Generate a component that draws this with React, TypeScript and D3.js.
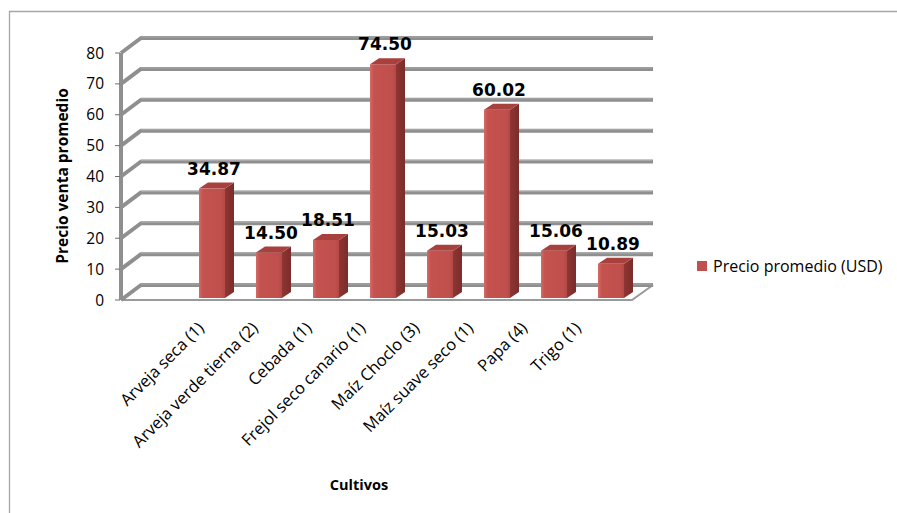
import React from "react";
import * as d3 from "d3";

// Cultivos y precio promedio de venta (USD)
const categories = [
  "Arveja seca (1)",
  "Arveja verde tierna (2)",
  "Cebada (1)",
  "Frejol seco canario (1)",
  "Maíz Choclo (3)",
  "Maíz suave seco (1)",
  "Papa (4)",
  "Trigo  (1)",
];
const values = [34.87, 14.5, 18.51, 74.5, 15.03, 60.02, 15.06, 10.89];
const yTicks = [0, 10, 20, 30, 40, 50, 60, 70, 80];
const seriesName = "Precio promedio (USD)";
const xTitle = "Cultivos";
const yTitle = "Precio venta promedio";

const W = 897;
const H = 513;

// 3D depth offsets
const WALL_DX = 20;
const WALL_DY = -15;
const BAR_DX = 9;
const BAR_DY = -6;

const FONT = "'Open Sans', 'Noto Sans', sans-serif";

export default function App() {
  // front plane of the value axis
  const yFront = d3.scaleLinear().domain([0, 80]).range([300, 53]);
  // plane in which the columns stand
  const yBar = d3.scaleLinear().domain([0, 80]).range([298, 47]);

  const xBar = d3
    .scaleBand<string>()
    .domain(categories)
    .range([183.5, 639.5])
    .paddingInner(0.544)
    .paddingOuter(0.272);

  const xLabel = d3.scalePoint<string>().domain(categories).range([205, 582]);

  const axisX = 121;
  const floorRight = 632;
  const wallRight = 653;

  const bw = xBar.bandwidth();

  return (
    <svg
      width={W}
      height={H}
      viewBox={`0 0 ${W} ${H}`}
      style={{ position: "absolute", left: 0, top: 0, background: "#fff" }}
    >
      <defs>
        <linearGradient id="barFront" x1="0" x2="1" y1="0" y2="0">
          <stop offset="0" stopColor="#d66a66" />
          <stop offset="0.15" stopColor="#c4524f" />
          <stop offset="0.85" stopColor="#c0504d" />
          <stop offset="1" stopColor="#b44844" />
        </linearGradient>
        <linearGradient id="barSide" x1="0" x2="1" y1="0" y2="0">
          <stop offset="0" stopColor="#8e3633" />
          <stop offset="1" stopColor="#7a2c2a" />
        </linearGradient>
      </defs>

      <rect x={0} y={0} width={W} height={H} fill="#fff" />

      {/* chart frame */}
      <path d={`M9.5,${H} V11.5 H${W}`} fill="none" stroke="#a6a6a6" strokeWidth={1.3} />

      {/* floor */}
      <path
        d={`M${axisX},${yFront(0)} L${floorRight},${yFront(0)} L${wallRight},${yFront(0) + WALL_DY}`}
        fill="none"
        stroke="#9a9a9a"
        strokeWidth={2}
      />

      {/* back wall gridlines with left-wall diagonals */}
      {yTicks.map((t) => {
        const yf = yFront(t);
        const yb = yf + WALL_DY;
        return (
          <g key={t}>
            <path
              d={`M${axisX},${yf} L${axisX + WALL_DX},${yb} H${wallRight}`}
              fill="none"
              stroke="#8f8f8f"
              strokeWidth={4}
              strokeLinejoin="round"
            />
            <path
              d={`M${axisX + WALL_DX},${yb - 1} H${wallRight - 1}`}
              fill="none"
              stroke="#a9a9a9"
              strokeWidth={1}
            />
          </g>
        );
      })}

      {/* value axis line */}
      <line x1={axisX} x2={axisX} y1={yFront(80)} y2={yFront(0)} stroke="#8f8f8f" strokeWidth={4} />

      {/* ticks and tick labels */}
      {yTicks.map((t) => (
        <g key={`t${t}`}>
          <line x1={115} x2={axisX - 1} y1={yFront(t)} y2={yFront(t)} stroke="#6e6e6e" strokeWidth={1} />
          <text
            x={104}
            y={yFront(t)}
            dy="0.36em"
            textAnchor="end"
            fontFamily={FONT}
            fontSize={15.5}
            fill="#000"
          >
            {t}
          </text>
        </g>
      ))}

      {/* columns */}
      {categories.map((c, i) => {
        const x0 = xBar(c)!;
        const v = values[i];
        const top = yBar(v);
        const base = yBar(0);
        return (
          <g key={c}>
            <rect x={x0} y={top} width={bw} height={base - top} fill="url(#barFront)" />
            <path
              d={`M${x0 + bw},${top} L${x0 + bw + BAR_DX},${top + BAR_DY} L${x0 + bw + BAR_DX},${base + BAR_DY} L${x0 + bw},${base} Z`}
              fill="url(#barSide)"
            />
            <path
              d={`M${x0},${top} L${x0 + BAR_DX},${top + BAR_DY} L${x0 + bw + BAR_DX},${top + BAR_DY} L${x0 + bw},${top} Z`}
              fill="#a8413e"
            />
            <text
              x={x0 + bw / 2 + 2}
              y={top - 14}
              textAnchor="middle"
              fontFamily="'DejaVu Sans', sans-serif"
              fontWeight="bold"
              fontSize={17}
              fill="#000"
            >
              {v.toFixed(2)}
            </text>
          </g>
        );
      })}

      {/* category labels */}
      {categories.map((c) => (
        <text
          key={`l${c}`}
          transform={`translate(${xLabel(c)},329) rotate(-45)`}
          textAnchor="end"
          fontFamily={FONT}
          fontSize={16.5}
          fill="#000"
        >
          {c}
        </text>
      ))}

      {/* axis titles */}
      <text
        x={359}
        y={490}
        textAnchor="middle"
        fontFamily={FONT}
        fontWeight="bold"
        fontSize={14.5}
        fill="#000"
      >
        {xTitle}
      </text>
      <text
        transform={`translate(68,176) rotate(-90)`}
        textAnchor="middle"
        fontFamily={FONT}
        fontWeight="bold"
        fontSize={15.5}
        fill="#000"
      >
        {yTitle}
      </text>

      {/* legend */}
      <rect x={697} y={261} width={10} height={10} fill="#c0504d" />
      <text x={713} y={272} fontFamily={FONT} fontSize={16} fill="#000">
        {seriesName}
      </text>
    </svg>
  );
}
